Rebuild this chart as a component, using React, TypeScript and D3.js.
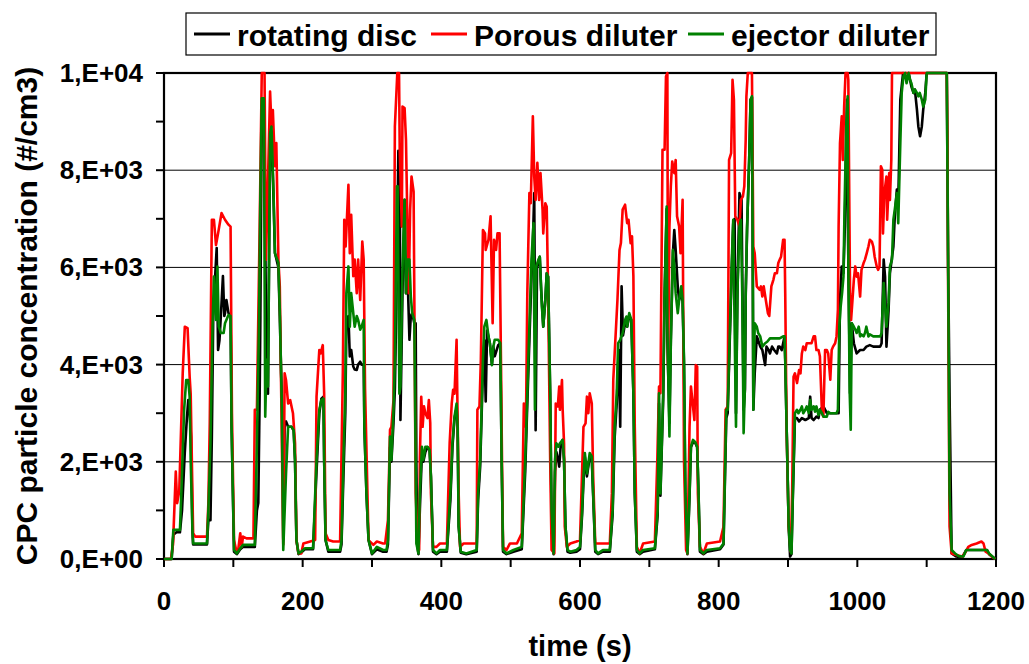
import React from "react";
import * as d3 from "d3";

// ---- data (time s, concentration #/cm3) ----
const seriesNames = ["rotating disc", "Porous diluter", "ejector diluter"];
const seriesColors = ["#000000", "#ff0000", "#008000"];

const rotatingDisc: [number, number][] = [
  [0,0],[11,0],[13.5,500],[18,550],[23,550],[26,1000],[30,2200],[33,2900],[35,3270],[37,3000],[39,2520],[41,600],[42,300],[62,300],
  [64,800],[67,800],[69,2500],[71,5000],[73,5610],[76,6400],[78,4300],[80,4500],[82,5000],[85,5820],[87,5000],[88,5060],[90,5330],[93,5060],[96,5000],[97.5,2720],
  [101,150],[105,100],[110,200],[114,250],[131,250],[134,1000],[136,1150],[138,3400],[139,5000],[141,9300],[144,9300],[146,6700],[148,3500],[150,3400],
  [153,8700],[155,8800],[158,7400],[160,6300],[165,6000],[167,5000],[169,3800],[171,2830],[172,400],[174,2800],[176,2830],[179,2720],[184,2720],[187,2650],[189,2040],
  [191,390],[194,100],[198,130],[203,200],[215,200],[220,1800],[224,3000],[227,3300],[230,3340],[231,2040],[233,390],[237,150],[254,150],[256,300],
  [259,1800],[261.5,3000],[263,4800],[266,5000],[268,4170],[270,4300],[273,3960],[275,3900],[278,3890],[280,4000],[283,4060],[285,4000],[288,4000],[289,2720],[292,1350],
  [295,390],[300,100],[307,200],[316,150],[321,150],[323,300],[326,2300],[328,2000],[331,2800],[333,3500],[336,6000],[338,8400],[340,8350],[341,2860],
  [344,5500],[347,7390],[349,5470],[351,6000],[354,4510],[356,5000],[358,5060],[361,4850],[363,4850],[364,2000],[365,320],[367,100],[369,1000],[372,2200],
  [374,2000],[377,2200],[380,2300],[383,2250],[385,1700],[388,150],[393,100],[398,150],[408,150],[413,1200],[416,2300],[419,2900],[422,3100],[423.5,2720],
  [425,670],[428,130],[436,100],[451,150],[453,1200],[456,1900],[460,3900],[462,4500],[464,3240],[466,4700],[468,4580],[470,4440],[473,4000],[475,4370],
  [477,4170],[482,4400],[485,4440],[487,2040],[489,150],[494,100],[504,150],[516,200],[521,1800],[524,3200],[527,4500],[530,5800],[532,6500],[534,7530],
  [536,2650],[538,6000],[540,6100],[542,6220],[544,5540],[547,4780],[550,5330],[552,5880],[554,5810],[557,3400],[559,800],[562,100],[564,1800],[566,2200],
  [569,2000],[570,1900],[572,2300],[575,2450],[577,2040],[579,670],[582,150],[586,130],[595,150],[600,200],[603,900],[605,1600],[607,2100],[610,1700],
  [612,1900],[614,2100],[617,2050],[619,1300],[622,150],[626,100],[633,150],[643,150],[647,900],[650,2500],[653,3200],[655,4000],[656,4300],[658,2720],
  [660,5610],[662,4600],[665,4850],[667,4900],[668,4780],[671,5000],[674,4920],[677,3410],[679,1350],[682,150],[686,100],[691,150],[708,200],[712,900],
  [714,3200],[716,1300],[720,3300],[722,5400],[725,7200],[726,4500],[729,2800],[731,4500],[734,6300],[736,6770],[738,6360],[741,5600],[743,5330],[746,5500],
  [748,5300],[750,4000],[752,1300],[755,100],[758,1300],[760,2300],[763,2400],[766,2400],[769,2300],[771,1300],[773,150],[778,100],[783,150],[802,200],
  [807,300],[811,2900],[813,3000],[815,4000],[819,6000],[821,6900],[823,7000],[825,3000],[827,5400],[830,7530],[833,7390],[836,3070],[838,3500],[839,5400],
  [841,6800],[844,8200],[846,9450],[848,9500],[849,6800],[850,3070],[852,3820],[855,4580],[857,4500],[860,4370],[863,4300],[867,3990],[869,4370],[872,4300],
  [874,4230],[877,4370],[880,4300],[884,4230],[886,4370],[888,4370],[891,4300],[893,4440],[895,4580],[896,4100],[898,2720],[901,670],[903,50],[905,100],
  [907,1300],[910,2900],[913,2900],[916,2830],[920,2900],[925,2860],[930,2900],[932,3340],[934,2900],[937,2860],[941,2930],[944,2900],[946,3070],[951,3140],
  [956,3000],[961,3000],[965,3000],[970,3000],[973,3000],[975,5330],[977.5,6020],[980,5880],[982,6840],[985,9450],[987,6160],[989.5,3410],[992,4850],[995,4440],
  [999,4230],[1004,4300],[1009,4300],[1013,4370],[1018,4400],[1023,4370],[1028,4370],[1033,4370],[1035,4440],[1038,6160],[1040,5810],[1042,4370],[1045,5100],
  [1047,5880],[1052,6430],[1054,7050],[1057,7600],[1059,7300],[1062,9450],[1066,10000],[1071,9860],[1074,10000],[1078,9720],[1081,9590],[1083,9660],[1086,9240],
  [1088,8900],[1090.5,8700],[1093,8900],[1095,9240],[1098,9590],[1100,10000],[1129,10000],[1131,6000],[1133,3410],[1136,115],[1143,50],[1151,30],[1157,185],
  [1187,185],[1190,100],[1199,0],
];

const porousDiluter: [number, number][] = [
  [0,0],[10,0],[13,300],[17,1800],[19,1150],[22,1400],[27,3820],[30,4780],[34,4750],[37,3750],[38.5,3400],[42,530],[45,460],[62,460],
  [64,1150],[66,2800],[69,6980],[72,6980],[75,6460],[78,6700],[83,7120],[88,6980],[93,6880],[96,6840],[98,3000],[101,390],[104,185],[107,185],
  [110,530],[112,250],[114,460],[119,425],[129,425],[131,3070],[134,3070],[138,6840],[141,10000],[145,10000],[147,6160],[149,7190],[153,9620],[155,8900],
  [157,9240],[160,8080],[162,8560],[165,6160],[167,5610],[170,2380],[172,300],[174,3820],[176,3680],[179,3200],[182,3270],[186,3000],[189,2380],[191,390],
  [194,115],[198,115],[201,320],[211,360],[218,390],[220,3340],[224,4300],[226,4230],[229,4400],[231,3400],[233,530],[237,390],[244,360],[254,360],
  [258,3900],[260,6980],[262,6430],[266,7700],[268,6290],[270,7080],[273,5820],[275,6160],[278,5470],[280,6160],[283,5330],[286,6530],[288,6160],[290,3500],
  [295,390],[302,290],[307,360],[316,320],[319,320],[323,800],[326,2660],[328,2720],[331,3270],[333,8900],[336.5,10000],[339,10000],[340,8420],[343,6840],
  [344,9310],[347,9280],[349,8630],[351,6980],[353,5470],[355,7190],[357,7870],[360,7560],[361,5470],[363,1350],[366,320],[368,185],[369,2040],[371,3340],
  [373,2720],[375,3140],[377,3000],[380,2900],[382,3270],[384,2800],[385,1350],[388,250],[393,250],[398,320],[408,320],[412,2380],[415,3200],[417,3480],
  [419,3400],[422,4510],[423,3400],[425,1350],[427,250],[432,320],[451,320],[452,3070],[455,3140],[457,4100],[460,6770],[463,6700],[464,6360],[468,6570],
  [471,7050],[474,4850],[476,6570],[479,6360],[481,6700],[484,6700],[486,4100],[488,1350],[489,250],[494,185],[499,320],[509,320],[516,530],[519,3200],
  [522,2720],[524,5470],[527,7530],[529,7320],[532,9110],[534,7870],[536,7390],[538.5,8150],[541,7390],[543,7940],[546,7190],[547,6700],[550,7320],[552,7250],
  [554,5470],[557,2040],[559,185],[563,115],[565,3200],[568,3140],[570,3550],[571,3070],[574,3680],[575,3070],[577,2380],[578,670],[581,250],[586,320],
  [595,360],[600,390],[605,2720],[608,2790],[610,3340],[612,3000],[614,3410],[617,3200],[619,1700],[622,320],[643,320],[646,1350],[648,3690],[650,4230],
  [654,5330],[657,6360],[659,6500],[661.5,7190],[665,7290],[668,6910],[670,6980],[673,6500],[675,6640],[677,5820],[679,2720],[682,250],[686,115],[691,320],
  [708,360],[711.5,2040],[714,3550],[716,3410],[719,8420],[722,8420],[724,9930],[726,10000],[727,3990],[729,6840],[731,7670],[733,8180],[736,7940],[738,8210],
  [740,7050],[743,6840],[745,6290],[748,7390],[749,4780],[750,2040],[753,185],[755,115],[758,2720],[760,3550],[763,3140],[765,2860],[767,3990],[769,3960],
  [770,1350],[773,250],[778,115],[783,320],[802,360],[807,670],[810,3070],[813,3140],[815,8210],[818,8350],[820,9860],[822,9450],[824,7050],[827,6980],
  [830,6840],[832,7390],[835,7460],[837,7670],[839,8630],[840,9520],[842,10000],[848,10000],[850,6430],[852,6290],[855,5610],[859,5540],[861,5610],[863,5400],
  [865,5610],[868,5330],[871,5060],[873,5000],[876,5610],[879,5750],[881,5880],[884,5880],[886,6090],[888,6160],[890,6220],[893,6570],[895,6570],[896,5470],
  [898,2720],[901,670],[904,150],[906,1350],[908,3750],[910,3820],[913,3620],[916,3890],[918,3820],[920,4230],[922,4370],[925,4300],[927,4440],[930,4440],
  [934,4440],[937,4580],[939,4580],[941,4300],[944,4300],[946,4170],[948,3400],[949,3000],[951,2930],[953.5,4300],[956,4300],[958,4230],[961,3690],[963,4300],
  [965,4370],[968,4440],[970,4580],[972,5130],[973,6840],[975,8560],[977.5,9110],[979,8210],[981,9310],[983,10000],[986,10000],[987,9860],[989.5,5470],[991,4920],
  [993,5330],[995,5750],[997,6020],[999,5810],[1001,5880],[1004,5400],[1006,5950],[1009,6090],[1011,6160],[1013.5,6290],[1016,6430],[1018,6570],[1021,6530],
  [1023,6430],[1025,6220],[1028,6020],[1030,5950],[1032,6020],[1034,8080],[1036,8010],[1037,6700],[1039,7530],[1042,7870],[1043,6980],[1046,7940],[1047,7390],
  [1049,8210],[1050,10000],[1129,10000],[1130,8700],[1131,5470],[1133,670],[1136,115],[1143,80],[1151,50],[1155,115],[1160,250],[1165,290],[1172,320],
  [1179,360],[1182,320],[1185,150],[1189,115],[1194,50],[1199,0],
];

const ejectorDiluter: [number, number][] = [
  [0,0],[11,0],[13.5,600],[18,600],[23,600],[25,1350],[29,3070],[32,3680],[35,3680],[37,3340],[38.5,2040],[41,600],[42,320],[62,320],
  [64,1000],[67,2380],[70,4780],[72,5810],[75,4920],[77,6020],[79,4780],[82,4650],[86,4650],[88,4850],[93,5020],[96,5000],[97.5,2720],[101,185],[105,115],
  [110,220],[114,290],[131,290],[134,2380],[137,4780],[139,7530],[141,9480],[144,9480],[146,2930],[148,4100],[150,3550],[153,8760],[155,8900],[158,7530],
  [160,6290],[165,6090],[167,5130],[170,3070],[172,185],[176,1760],[179,2720],[184,2720],[187,2650],[189,2040],[191,390],[194,115],[198,150],[203,220],
  [215,220],[220,2040],[224,3070],[227,3270],[230,3300],[231,2040],[233,390],[237,185],[254,185],[256,390],[259,2180],[261.5,3400],[263,5470],[266,6020],
  [268,4780],[270,5470],[273,5060],[275,4780],[278,5000],[280,4920],[283,4720],[285,4780],[288,4920],[289,2720],[292,1350],[295,390],[300,115],[307,250],
  [316,185],[321,185],[323,390],[326,2520],[328,2040],[331,3070],[333,4100],[336,7670],[337,7670],[339.5,3400],[341,3550],[344,6000],[347,7390],[349,5470],
  [351,6160],[354,6160],[356,5400],[358,5060],[361,4920],[362.5,2720],[364,320],[367,115],[369,1350],[372,2310],[374,2040],[377,2310],[380,2310],[383,2250],
  [385,1700],[388,185],[393,115],[398,185],[408,185],[413,1350],[416,2380],[419,2930],[422,3200],[423.5,2720],[425,670],[428,150],[436,115],[451,185],
  [453,1350],[456,2040],[460,4100],[462,4780],[465,4920],[468,4580],[470,4440],[473,3990],[475,4370],[477,4510],[482,4510],[485,4440],[487,2040],[489,185],
  [494,115],[504,185],[516,250],[521,2040],[524,3400],[527,4780],[530,6160],[533,6910],[535,3070],[537,6020],[540,6160],[542,6220],[545,5200],[547,4780],
  [550,5330],[552,5880],[554,5810],[557,3400],[559,1000],[562,115],[564,2040],[566,2380],[569,2310],[571,2380],[575,2450],[577,2040],[579,670],[582,185],
  [586,150],[595,185],[600,250],[603,1000],[605,1700],[607,2180],[610,1760],[612,1960],[614,2180],[617,2110],[619,1350],[622,185],[626,115],[633,185],
  [643,185],[647,1000],[650,2720],[653,3410],[655,4440],[658,4510],[661.5,4650],[665,4920],[667,4990],[668,4780],[671,5060],[674,4920],[677,3410],[679,1350],
  [682,185],[686,115],[691,185],[708,220],[712,1000],[714,3410],[716,1350],[720,3410],[722,5470],[725,7250],[726,4780],[729,2520],[731,4440],[734,6360],
  [736,6020],[738,5470],[741,5060],[743,5330],[746,5610],[748,5330],[750,4100],[752,1350],[755,115],[758,1350],[760,2310],[763,2450],[766,2410],[769,2310],
  [771,1350],[773,185],[778,115],[783,185],[802,220],[807,320],[811,3070],[813,3070],[815,4100],[819,6160],[821,6980],[823,4780],[825,2720],[827,5470],
  [830,6840],[832,6980],[834,5470],[836,2590],[837.5,3410],[839,5470],[841,6840],[844,8210],[846,9450],[848,9520],[849,6840],[850,3070],[852,4850],[855,4780],
  [857,4650],[860,4580],[863,4370],[867,4440],[870,4470],[874,4540],[879,4540],[884,4540],[888,4540],[893,4580],[895,4580],[896,4100],[898,2720],[901,670],
  [903,185],[905,115],[907,1350],[910,3000],[913,3070],[915,3000],[918,3070],[920,3140],[922,3000],[925,3070],[927,3140],[930,3000],[932,3270],[934,3070],
  [937,3140],[939,3030],[941,3140],[944,2960],[946,3070],[949,3000],[951,2930],[956,2930],[958,3030],[961,3000],[965,3000],[970,3000],[972,3070],[974,4780],
  [976,5200],[978,5470],[980,5810],[981.5,7190],[984,8900],[986,9520],[987,6160],[989,3410],[990.5,2660],[992,4850],[995,4780],[997,4720],[999,4650],
  [1002,4780],[1004,4580],[1006,4620],[1009,4580],[1011,4650],[1013,4780],[1016,4580],[1018,4620],[1023,4580],[1028,4580],[1033,4580],[1035,4650],[1038,5680],
  [1040,5200],[1042,4780],[1045,5270],[1047,6020],[1050,6160],[1052,6980],[1054,7190],[1057,7530],[1059,6910],[1062,8560],[1064,9590],[1066.5,9930],
  [1069,10000],[1071,9790],[1074,10000],[1076,9860],[1078,9790],[1081,9590],[1083,9660],[1086,9590],[1088,9520],[1090,9590],[1093,9450],[1095,9310],
  [1098,9450],[1100,10000],[1129,10000],[1131,5980],[1133,1350],[1136,185],[1141,115],[1146,60],[1153,50],[1157,185],[1187,185],[1190,115],[1199,0],
];

const xTicks = [0, 100, 200, 300, 400, 500, 600, 700, 800, 900, 1000, 1100, 1200];
const xTickLabels = ["0", "200", "400", "600", "800", "1000", "1200"];
const yTicks = [0, 1000, 2000, 3000, 4000, 5000, 6000, 7000, 8000, 9000, 10000];
const yTickLabels = ["0,E+00", "2,E+03", "4,E+03", "6,E+03", "8,E+03", "1,E+04"];
const yGrid = [2000, 4000, 6000, 8000];

const FONT = "'Liberation Sans', Arial, Helvetica, sans-serif";

export default function App() {
  const W = 1029, H = 664;
  const left = 164, right = 996, top = 73, bottom = 559;
  const x = d3.scaleLinear().domain([0, 1200]).range([left, right]);
  const y = d3.scaleLinear().domain([0, 10000]).range([bottom, top]);
  const line = d3.line<[number, number]>().x(d => x(d[0])).y(d => y(d[1]));
  const allSeries = [rotatingDisc, porousDiluter, ejectorDiluter];
  const yLabelVals = [0, 2000, 4000, 6000, 8000, 10000];
  const xLabelVals = [0, 200, 400, 600, 800, 1000, 1200];
  const legendX = [194, 431, 688];

  return (
    <svg width={W} height={H} style={{ position: "absolute", left: 0, top: 0, background: "#fff" }} fontFamily={FONT}>
      <defs>
        <clipPath id="plotclip">
          <rect x={left} y={top - 2} width={right - left} height={bottom - top + 4} />
        </clipPath>
      </defs>
      <rect x={0} y={0} width={W} height={H} fill="#fff" />
      {yGrid.map(v => (
        <line key={v} x1={left} x2={right} y1={y(v)} y2={y(v)} stroke="#000" strokeWidth={1} />
      ))}
      <rect x={left} y={top} width={right - left} height={bottom - top} fill="none" stroke="#000" strokeWidth={2.2} />
      {yTicks.map(v => (
        <line key={v} x1={left - 8} x2={left} y1={y(v)} y2={y(v)} stroke="#000" strokeWidth={2} />
      ))}
      {xTicks.map(v => (
        <line key={v} x1={x(v)} x2={x(v)} y1={bottom} y2={bottom + 8} stroke="#000" strokeWidth={2} />
      ))}
      <g clipPath="url(#plotclip)">
        {allSeries.map((s, i) => (
          <path key={i} d={line(s) || ""} fill="none" stroke={seriesColors[i]} strokeWidth={2.6} strokeLinejoin="round" />
        ))}
      </g>
      {yLabelVals.map((v, i) => (
        <text key={v} x={143} y={y(v) + 9} textAnchor="end" fontSize={26} fontWeight="bold" fill="#000">{yTickLabels[i]}</text>
      ))}
      {xLabelVals.map((v, i) => (
        <text key={v} x={x(v)} y={610} textAnchor="middle" fontSize={26} fontWeight="bold" fill="#000">{xTickLabels[i]}</text>
      ))}
      <text x={(left + right) / 2} y={656} textAnchor="middle" fontSize={29} fontWeight="bold" fill="#000">time (s)</text>
      <text transform={`translate(37, ${(top + bottom) / 2}) rotate(-90)`} textAnchor="middle" fontSize={30} fontWeight="bold" fill="#000">
        CPC particle concentration (#/cm3)
      </text>
      <rect x={186} y={13} width={750} height={42} fill="#fff" stroke="#000" strokeWidth={1.2} />
      {seriesNames.map((n, i) => (
        <g key={n}>
          <line x1={legendX[i]} x2={legendX[i] + 36} y1={34} y2={34} stroke={seriesColors[i]} strokeWidth={3} />
          <text x={legendX[i] + 43} y={46} fontSize={30} fontWeight="bold" fill="#000">{n}</text>
        </g>
      ))}
    </svg>
  );
}
